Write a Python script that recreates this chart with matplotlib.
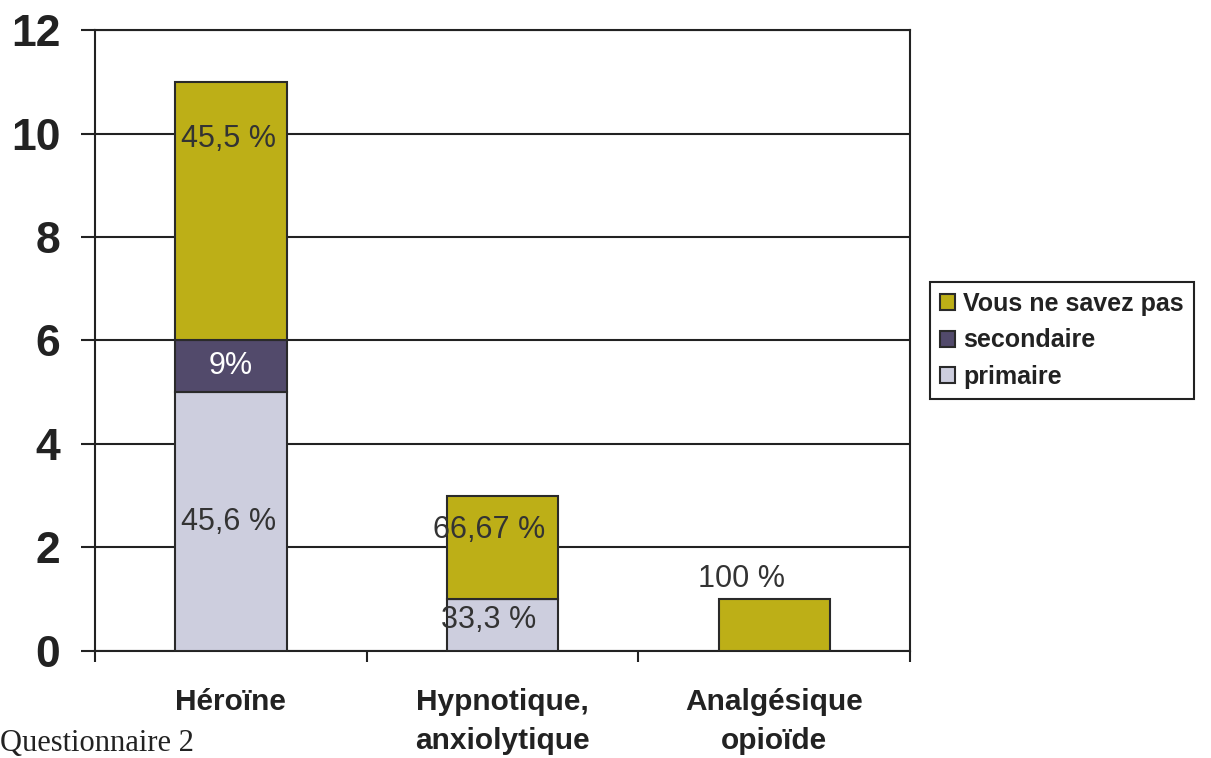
# stacked bars: type de dépendance par produit (questionnaire 2)

import numpy as np
import matplotlib.pyplot as plt

categories = ["Héroïne", "Hypnotique,\nanxiolytique", "Analgésique\nopioïde"]
primaire = [5, 1, 0]
secondaire = [1, 0, 0]
ne_sait_pas = [5, 2, 1]

# percentage labels: (category index, y value, text, colour)
pct_labels = [
    (0, 9.9, "45,5 %", "#333333"),
    (0, 5.5, "9%", "white"),
    (0, 2.5, "45,6 %", "#333333"),
    (1, 2.33, "66,67 %", "#333333"),
    (1, 0.6, "33,3 %", "#333333"),
    (2, 1.4, "100 %", "#333333"),
]
pct_dx = [-0.01, 0.0, -0.01, -0.05, -0.05, -0.12]

col_prim = "#CDCEDE"
col_sec = "#524A6B"
col_nsp = "#BDAF17"

plt.rcParams["font.family"] = ["Liberation Sans", "DejaVu Sans"]

fig = plt.figure(figsize=(12.11, 7.58), dpi=100)
ax = fig.add_axes([0.0785, 0.1412, 0.673, 0.8192])

x = np.arange(len(categories))
w = 0.41
prim = np.array(primaire)
sec = np.array(secondaire)
nsp = np.array(ne_sait_pas)

ax.bar(x, prim, w, color=col_prim, edgecolor="#2a2a2a", linewidth=1.5, label="primaire", zorder=3)
ax.bar(x, sec, w, bottom=prim, color=col_sec, edgecolor="#2a2a2a", linewidth=1.5, label="secondaire", zorder=3)
ax.bar(x, nsp, w, bottom=prim + sec, color=col_nsp, edgecolor="#2a2a2a", linewidth=1.5, label="Vous ne savez pas", zorder=3)

for (i, yv, txt, c), dx in zip(pct_labels, pct_dx):
    ax.text(i + dx, yv, txt, ha="center", va="center", fontsize=22, color=c, zorder=4)

ax.set_xlim(-0.5, 2.5)
ax.set_ylim(0, 12)
ax.set_yticks(range(0, 13, 2))
ax.set_yticklabels([str(v) for v in range(0, 13, 2)], fontsize=32, fontweight="bold", color="#222222")
ax.yaxis.grid(True, color="#222222", linewidth=1.5, zorder=0)
ax.set_axisbelow(True)

ax.set_xticks([-0.5, 0.5, 1.5, 2.5], minor=False)
ax.set_xticklabels([])
ax.set_xticks(x, minor=True)
ax.set_xticklabels(categories, minor=True, fontsize=21.5, fontweight="bold", linespacing=1.5,
                   va="top", color="#222222")
ax.tick_params(axis="x", which="minor", length=0, pad=27)
ax.tick_params(axis="x", which="major", length=8, width=1.5, color="#222222")
ax.tick_params(axis="y", length=10, width=1.5, pad=15, color="#222222")

for s in ax.spines.values():
    s.set_color("#222222")
    s.set_linewidth(1.5)

handles, labels = ax.get_legend_handles_labels()
leg = ax.legend(handles[::-1], labels[::-1], loc="center left", bbox_to_anchor=(1.025, 0.5),
                borderaxespad=0, fancybox=False, edgecolor="#222222", framealpha=1,
                prop={"weight": "bold", "size": 18},
                handlelength=0.6, handleheight=0.6, handletextpad=0.3, borderpad=0.4, labelspacing=0.5)
leg.get_frame().set_linewidth(1.5)
for t in leg.get_texts():
    t.set_color("#222222")

fig.text(0.0, 0.0, "Questionnaire 2", fontsize=22, family=["Liberation Serif", "DejaVu Serif"],
         ha="left", va="bottom", color="#222222")

plt.savefig("out.png", dpi=100)
